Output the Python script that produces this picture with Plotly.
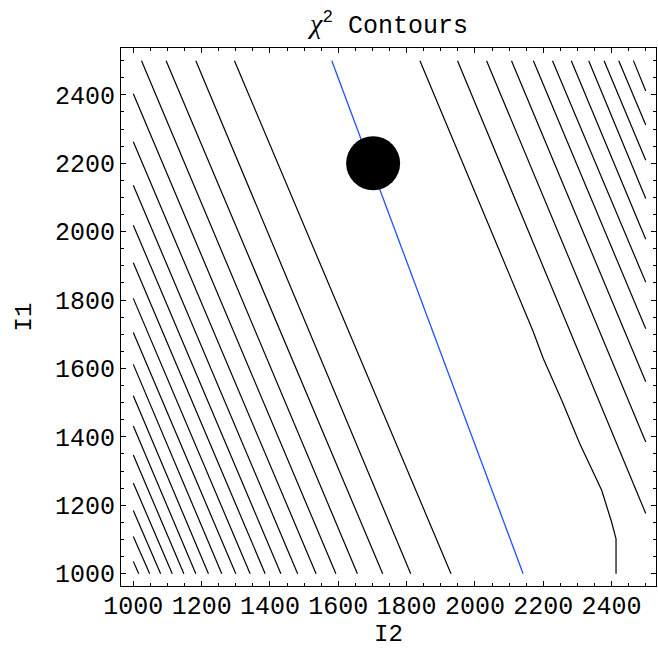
import plotly.graph_objects as go

# Grid edges of the evaluated region
EDGE_LO = 1000
EDGE_HI = 2500

# Contours entering through the left edge (I2 = 1000), leaving through the bottom edge (I1 = 1000)
left_edge_I1 = [1036, 1109, 1185, 1265, 1347, 1432, 1520, 1612, 1705, 1805, 1909, 2019, 2136, 2263, 2403]
left_bottom_I2 = [1016, 1048, 1080, 1114, 1148, 1183, 1220, 1259, 1300, 1342, 1386, 1432, 1481, 1535, 1593]

# Contours running from the top edge (I1 = 2500) to the bottom edge
mid_top_I2 = [1024, 1096, 1183, 1296]
mid_bottom_I2 = [1656, 1730, 1812, 1930]

# Contours running from the top edge to the right edge (I2 = 2500)
right_top_I2 = [2464, 2421, 2378, 2333, 2282, 2227, 2171, 2107, 2034, 1949]
right_edge_I1 = [2411, 2312, 2209, 2097, 1978, 1852, 1716, 1561, 1385, 1176]

# Outermost contour on the high-I2 side, bending down onto the bottom edge
outer_I2 = [1839, 2169, 2200, 2254, 2307, 2371, 2400, 2413, 2413]
outer_I1 = [2500, 1712, 1629, 1507, 1380, 1244, 1151, 1102, 1000]

# Valley line of the chi-square surface
valley_I2 = [1581, 2141]
valley_I1 = [2500, 1000]

# Best-fit point
best_I2 = [1702]
best_I1 = [2200]

xs, ys = [], []


def add_segment(px, py):
    xs.extend(px + [None])
    ys.extend(py + [None])


for i1, i2 in zip(left_edge_I1, left_bottom_I2):
    add_segment([EDGE_LO, i2], [i1, EDGE_LO])
for t, b in zip(mid_top_I2, mid_bottom_I2):
    add_segment([t, b], [EDGE_HI, EDGE_LO])
for t, r in zip(right_top_I2, right_edge_I1):
    add_segment([t, EDGE_HI], [EDGE_HI, r])
add_segment(outer_I2, outer_I1)

fig = go.Figure()
fig.add_trace(go.Scatter(x=xs, y=ys, mode="lines",
                         line=dict(color="black", width=1.2),
                         hoverinfo="skip", connectgaps=False))
fig.add_trace(go.Scatter(x=valley_I2, y=valley_I1, mode="lines",
                         line=dict(color="#2050ff", width=1.3),
                         hoverinfo="skip"))
fig.add_trace(go.Scatter(x=best_I2, y=best_I1, mode="markers",
                         marker=dict(color="black", size=54, line=dict(width=0)),
                         hoverinfo="skip"))

FONT = "Liberation Mono, Courier New, monospace"

axis_common = dict(
    dtick=200, tick0=1000,
    ticks="inside", ticklen=5, tickwidth=1, tickcolor="black",
    showline=True, linecolor="black", linewidth=1, mirror="ticks",
    showgrid=False, zeroline=False,
    minor=dict(ticks="inside", dtick=50, tick0=1000, ticklen=3,
               tickwidth=1, tickcolor="black", showgrid=False),
    tickfont=dict(family=FONT, size=25, color="black"),
)

fig.update_layout(
    width=658, height=648,
    margin=dict(l=121, r=2, t=48, b=62),
    plot_bgcolor="white", paper_bgcolor="white",
    showlegend=False,
    font=dict(family=FONT, size=25, color="black"),
    title=dict(
        text="<span style='font-family:Liberation Serif;font-size:28px'><i>χ</i></span><sup>2</sup> Contours",
        x=389 / 658, xanchor="center", xref="container",
        y=1 - 24 / 648, yanchor="middle", yref="container",
        font=dict(family=FONT, size=25, color="black"),
    ),
    xaxis=dict(range=[964, 2530], ticklabelstandoff=-3,
               title=dict(text="I2", standoff=8,
                          font=dict(family=FONT, size=24)),
               **axis_common),
    yaxis=dict(range=[964, 2537],
               title=dict(text="I1", standoff=16,
                          font=dict(family=FONT, size=24)),
               **axis_common),
)

fig.write_html("out.html")
